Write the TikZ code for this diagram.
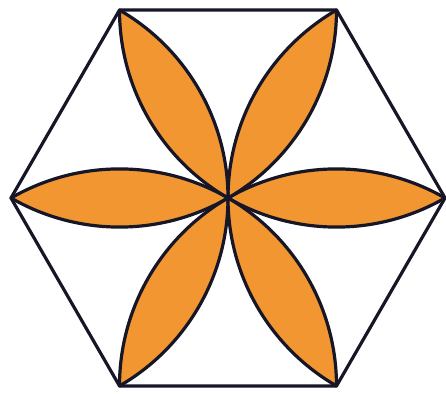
\documentclass[tikz,border=0pt]{standalone}
\usepackage{tikz}
\definecolor{petalorange}{RGB}{242,150,50}
\definecolor{ink}{RGB}{22,22,38}

\begin{document}
\begin{tikzpicture}[x=1pt, y=1pt, line join=round,
  petal/.style={fill=petalorange, draw=ink, line width=3.2pt},
  hexline/.style={draw=ink, line width=3.2pt}]
  \useasboundingbox (0,0) rectangle (446,393);
  \coordinate (o) at (228,195);
  \foreach \a [count=\i] in {0,60,...,300}
    \path (o) ++(\a:217pt) coordinate (v\i);
  \draw[hexline] (v1) -- (v2) -- (v3) -- (v4) -- (v5) -- (v6) -- cycle;
  % six petals, each between two arcs centred on the neighbouring corners
  \foreach \t in {0,60,...,300}
    \draw[petal] (o) arc[start angle=240+\t, end angle=300+\t, radius=217pt]
      arc[start angle=60+\t, end angle=120+\t, radius=217pt] -- cycle;
\end{tikzpicture}
\end{document}
